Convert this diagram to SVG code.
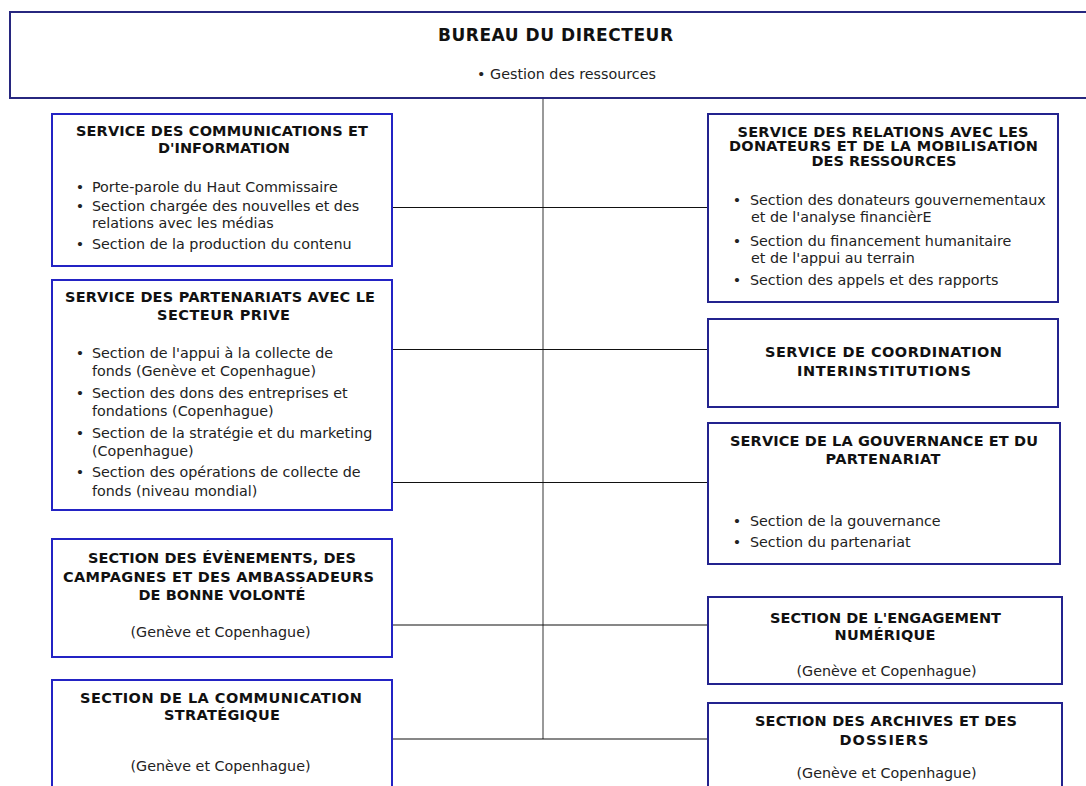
<svg xmlns="http://www.w3.org/2000/svg" width="1086" height="786" viewBox="0 0 1086 786">
<style>
.bg{fill:#ffffff}
.boxL{fill:#ffffff;stroke:#2323c4;stroke-width:2}
.boxR{fill:#ffffff;stroke:#23238e;stroke-width:2}
.boxT{fill:#ffffff;stroke:#27277f;stroke-width:2}
.t{font-family:"DejaVu Sans",Verdana,sans-serif;font-weight:bold;font-size:14.5px;fill:#111111;text-anchor:middle}
.tt{font-family:"DejaVu Sans",Verdana,sans-serif;font-weight:bold;font-size:17px;fill:#111111;text-anchor:middle}
.b{font-family:"DejaVu Sans",Verdana,sans-serif;font-size:14.3px;fill:#222222}
.c{font-family:"DejaVu Sans",Verdana,sans-serif;font-size:14.3px;fill:#222222;text-anchor:middle}
.h{stroke:#111111;stroke-width:1.2;fill:none}
.v{stroke:#555555;stroke-width:1.2;fill:none}
</style>
<rect class="bg" x="0" y="0" width="1086" height="786"/>

<g id="connectors">
<line class="v" x1="543" y1="98" x2="543" y2="739"/>
<line class="h" x1="392" y1="207.5" x2="708" y2="207.5"/>
<line class="h" x1="392" y1="349.5" x2="708" y2="349.5"/>
<line class="h" x1="392" y1="482.5" x2="708" y2="482.5"/>
<line class="h" x1="392" y1="625" x2="708" y2="625"/>
<line class="h" x1="392" y1="739" x2="708" y2="739"/>
</g>

<g id="bureau">
<rect class="boxT" x="10" y="12" width="1090" height="86"/>
<text class="tt" x="555.5" y="41" textLength="235" lengthAdjust="spacing">BUREAU DU DIRECTEUR</text>
<text class="c" x="566.5" y="79">• Gestion des ressources</text>
</g>

<g id="communications">
<rect class="boxL" x="52" y="114" width="340" height="152"/>
<text class="t" x="222" y="136" textLength="292" lengthAdjust="spacing">SERVICE DES COMMUNICATIONS ET</text>
<text class="t" x="224" y="153" textLength="132" lengthAdjust="spacing">D'INFORMATION</text>
<text class="c" x="80" y="192">•</text>
<text class="b" x="92" y="192">Porte-parole du Haut Commissaire</text>
<text class="c" x="80" y="211">•</text>
<text class="b" x="92" y="211">Section chargée des nouvelles et des</text>
<text class="b" x="92" y="228">relations avec les médias</text>
<text class="c" x="80" y="249">•</text>
<text class="b" x="92" y="249">Section de la production du contenu</text>
</g>

<g id="partenariats">
<rect class="boxL" x="52" y="280" width="340" height="230"/>
<text class="t" x="220" y="302" textLength="310" lengthAdjust="spacing">SERVICE DES PARTENARIATS AVEC LE</text>
<text class="t" x="223.5" y="320" textLength="133" lengthAdjust="spacing">SECTEUR PRIVE</text>
<text class="c" x="80" y="358">•</text>
<text class="b" x="92" y="358">Section de l'appui à la collecte de</text>
<text class="b" x="92" y="376">fonds (Genève et Copenhague)</text>
<text class="c" x="80" y="398">•</text>
<text class="b" x="92" y="398">Section des dons des entreprises et</text>
<text class="b" x="92" y="416">fondations (Copenhague)</text>
<text class="c" x="80" y="438">•</text>
<text class="b" x="92" y="438">Section de la stratégie et du marketing</text>
<text class="b" x="92" y="456">(Copenhague)</text>
<text class="c" x="80" y="477">•</text>
<text class="b" x="92" y="477">Section des opérations de collecte de</text>
<text class="b" x="92" y="496">fonds (niveau mondial)</text>
</g>

<g id="evenements">
<rect class="boxL" x="52" y="539" width="340" height="118"/>
<text class="t" x="222" y="563" textLength="268" lengthAdjust="spacing">SECTION DES ÉVÈNEMENTS, DES</text>
<text class="t" x="218.5" y="582" textLength="311" lengthAdjust="spacing">CAMPAGNES ET DES AMBASSADEURS</text>
<text class="t" x="222" y="600" textLength="167" lengthAdjust="spacing">DE BONNE VOLONTÉ</text>
<text class="c" x="220.5" y="637">(Genève et Copenhague)</text>
</g>

<g id="communication-strategique">
<rect class="boxL" x="52" y="680" width="340" height="120"/>
<text class="t" x="221" y="703" textLength="282" lengthAdjust="spacing">SECTION DE LA COMMUNICATION</text>
<text class="t" x="222" y="720" textLength="116" lengthAdjust="spacing">STRATÉGIQUE</text>
<text class="c" x="220.5" y="771">(Genève et Copenhague)</text>
</g>

<g id="relations-donateurs">
<rect class="boxR" x="708" y="114" width="350" height="188"/>
<text class="t" x="883" y="137" textLength="291" lengthAdjust="spacing">SERVICE DES RELATIONS AVEC LES</text>
<text class="t" x="883.5" y="151" textLength="309" lengthAdjust="spacing">DONATEURS ET DE LA MOBILISATION</text>
<text class="t" x="884" y="166" textLength="145" lengthAdjust="spacing">DES RESSOURCES</text>
<text class="c" x="737" y="205">•</text>
<text class="b" x="750" y="205">Section des donateurs gouvernementaux</text>
<text class="b" x="751" y="222">et de l'analyse financièrE</text>
<text class="c" x="737" y="246">•</text>
<text class="b" x="750" y="246">Section du financement humanitaire</text>
<text class="b" x="751" y="263">et de l'appui au terrain</text>
<text class="c" x="737" y="285">•</text>
<text class="b" x="750" y="285">Section des appels et des rapports</text>
</g>

<g id="coordination">
<rect class="boxR" x="708" y="319" width="350" height="88"/>
<text class="t" x="883.5" y="357" textLength="237" lengthAdjust="spacing">SERVICE DE COORDINATION</text>
<text class="t" x="884" y="376" textLength="174" lengthAdjust="spacing">INTERINSTITUTIONS</text>
</g>

<g id="gouvernance">
<rect class="boxR" x="708" y="423" width="352" height="141"/>
<text class="t" x="884" y="446" textLength="308" lengthAdjust="spacing">SERVICE DE LA GOUVERNANCE ET DU</text>
<text class="t" x="883" y="464" textLength="115" lengthAdjust="spacing">PARTENARIAT</text>
<text class="c" x="737" y="526">•</text>
<text class="b" x="750" y="526">Section de la gouvernance</text>
<text class="c" x="737" y="547">•</text>
<text class="b" x="750" y="547">Section du partenariat</text>
</g>

<g id="engagement-numerique">
<rect class="boxR" x="708" y="597" width="354" height="87"/>
<text class="t" x="885.5" y="623" textLength="231" lengthAdjust="spacing">SECTION DE L'ENGAGEMENT</text>
<text class="t" x="885" y="640" textLength="101" lengthAdjust="spacing">NUMÉRIQUE</text>
<text class="c" x="886.5" y="676">(Genève et Copenhague)</text>
</g>

<g id="archives">
<rect class="boxR" x="708" y="703" width="354" height="97"/>
<text class="t" x="886" y="726" textLength="262" lengthAdjust="spacing">SECTION DES ARCHIVES ET DES</text>
<text class="t" x="884" y="745" textLength="89" lengthAdjust="spacing">DOSSIERS</text>
<text class="c" x="886.5" y="778">(Genève et Copenhague)</text>
</g>
</svg>
